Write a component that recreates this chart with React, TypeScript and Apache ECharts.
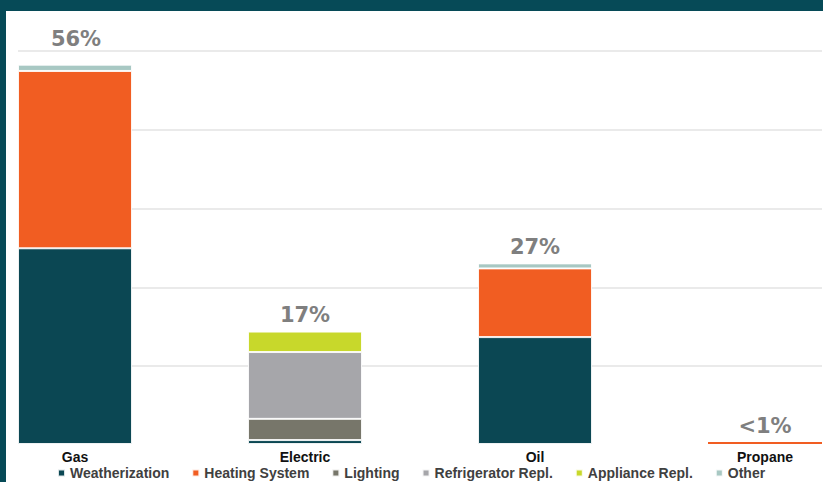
import React, { useEffect, useRef } from "react";
import * as echarts from "echarts";

const categories = ["Gas", "Electric", "Oil", "Propane"];
const seriesNames = [
  "Weatherization",
  "Heating System",
  "Lighting",
  "Refrigerator Repl.",
  "Appliance Repl.",
  "Other",
];
const weatherization = [2.49, 0.05, 1.36, null];
const heatingSystem = [2.256, null, 0.874, 0.025];
const lighting = [null, 0.27, null, null];
const refrigeratorRepl = [null, 0.85, null, null];
const applianceRepl = [null, 0.26, null, null];
const other = [0.08, null, 0.064, null];
const totalLabels = ["56%", "17%", "27%", "<1%"];
const seriesColors = ["#0b4753", "#f15d22", "#77766a", "#a6a6aa", "#c8d82b", "#a8c8c3"];
const FONT = "'Liberation Sans', Arial, sans-serif";

// chart canvas is shifted left by SHIFT px so that the first category band starts off-screen
const SHIFT = 40;
const CW = 920;

export default function App() {
  const ref = useRef<HTMLDivElement>(null);
  useEffect(() => {
    if (!ref.current) return;
    const chart = echarts.init(ref.current, undefined, { renderer: "svg" });
    const values = [weatherization, heatingSystem, lighting, refrigeratorRepl, applianceRepl, other];
    const barSeries: any[] = values.map((d, i) => ({
      name: seriesNames[i],
      type: "bar",
      stack: "total",
      xAxisIndex: 0,
      yAxisIndex: 0,
      barWidth: 114,
      itemStyle: { color: seriesColors[i], borderColor: "rgba(255,255,255,0.85)", borderWidth: 1 },
      data: d.map((v, j) =>
        categories[j] === "Propane" ? { value: v, itemStyle: { borderWidth: 0 } } : v
      ),
    }));
    barSeries.push({
      name: "Total",
      type: "bar",
      stack: "total",
      xAxisIndex: 0,
      yAxisIndex: 0,
      barWidth: 114,
      itemStyle: { color: "transparent", borderWidth: 0 },
      label: {
        show: true,
        position: "top",
        distance: 6,
        fontFamily: "'DejaVu Sans', sans-serif",
        fontSize: 21,
        fontWeight: "bold",
        color: "#7f7f7f",
        formatter: (p: any) => totalLabels[p.dataIndex],
      },
      data: categories.map((c, j) =>
        j === 0 ? { value: 0, label: { offset: [1, -9] } } : 0
      ),
    });
    chart.setOption({
      animation: false,
      backgroundColor: "#ffffff",
      graphic: [
        { type: "rect", shape: { x: 0, y: 0, width: CW, height: 11 }, style: { fill: "#064a57" }, z: 100 },
        { type: "rect", shape: { x: 0, y: 0, width: SHIFT + 6, height: 482 }, style: { fill: "#064a57" }, z: 100 },
      ],
      grid: [
        { left: 0, width: CW, top: 51, bottom: 38 },
        { left: SHIFT + 18, right: CW - SHIFT - 822, top: 51, bottom: 116 },
      ],
      legend: {
        data: seriesNames,
        top: 461,
        left: SHIFT + 52,
        icon: "rect",
        itemWidth: 7,
        itemHeight: 7,
        itemGap: 22,
        textStyle: { fontFamily: FONT, fontSize: 14, fontWeight: "bold", color: "#404040" },
      },
      xAxis: [
        {
          type: "category",
          gridIndex: 0,
          data: categories,
          axisLine: { show: false },
          axisTick: { show: false },
          axisLabel: { margin: 6, fontFamily: FONT, fontSize: 14, fontWeight: "bold", color: "#111111" },
        },
        { type: "value", gridIndex: 1, show: false, min: 0, max: 1 },
      ],
      yAxis: [
        { type: "value", gridIndex: 0, min: 0, max: 5, interval: 1, show: false, splitLine: { show: false } },
        {
          type: "value",
          gridIndex: 1,
          min: 1,
          max: 5,
          interval: 1,
          axisLabel: { show: false },
          axisLine: { show: false },
          axisTick: { show: false },
          splitLine: { show: true, lineStyle: { color: "#e3e3e3", width: 1.5 } },
        },
      ],
      series: barSeries,
    });
    return () => chart.dispose();
  }, []);
  return (
    <div style={{ position: "absolute", left: 0, top: 0, width: 823, height: 482, overflow: "hidden" }}>
      <div
        ref={ref}
        style={{ position: "absolute", left: -SHIFT, top: 0, width: CW, height: 482 }}
      />
    </div>
  );
}
